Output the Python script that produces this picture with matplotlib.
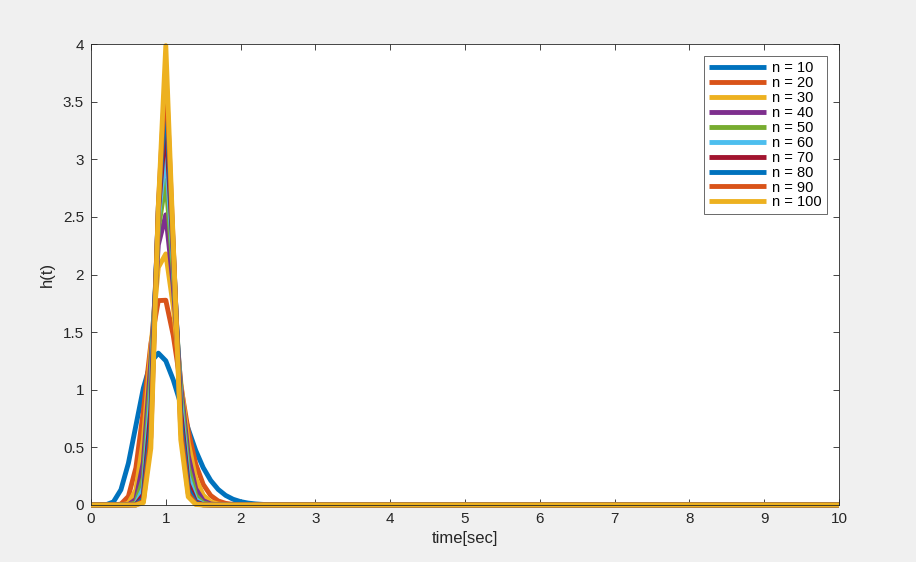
import numpy as np
import matplotlib
matplotlib.use("Agg")
import matplotlib.pyplot as plt

# time grid 0:0.1:10 ; values listed for t = 0.0 ... 3.0, zero afterwards
n_values = [10, 20, 30, 40, 50, 60, 70, 80, 90, 100]
h10 = [0, 0, 0.0019, 0.0270, 0.1323, 0.3627, 0.6884, 1.0140, 1.2407, 1.3176, 1.2511,
       1.0852, 0.8737, 0.6605, 0.4734, 0.3241, 0.2131, 0.1353, 0.0833, 0.0498, 0.0291,
       0.0166, 0.0093, 0.0051, 0.0027, 0.0015, 0.0008, 0.0004, 0.0002, 0.0001, 0.0]
h20 = [0, 0, 0, 0.0002, 0.0079, 0.0747, 0.3227, 0.8170, 1.3979, 1.7734, 1.7767,
       1.4706, 1.0396, 0.6438, 0.3562, 0.1788, 0.0825, 0.0353, 0.0142, 0.0054, 0.0019,
       0.0007, 0.0002, 0.0001, 0, 0, 0, 0, 0, 0, 0]
h30 = [0, 0, 0, 0, 0.0004, 0.0133, 0.1306, 0.5685, 1.3603, 2.0614, 2.1790,
       1.7209, 1.0684, 0.5420, 0.2314, 0.0852, 0.0276, 0.0080, 0.0021, 0.0005, 0.0001,
       0, 0, 0, 0, 0, 0, 0, 0, 0, 0]
h40 = [0, 0, 0, 0, 0, 0.0022, 0.0498, 0.3727, 1.2471, 2.2576, 2.5179,
       1.8975, 1.0346, 0.4298, 0.1417, 0.0383, 0.0087, 0.0017, 0.0003, 0, 0,
       0, 0, 0, 0, 0, 0, 0, 0, 0, 0]
h50 = [0, 0, 0, 0, 0, 0.0004, 0.0184, 0.2366, 1.1067, 2.3934, 2.8163,
       2.0251, 0.9697, 0.3300, 0.0840, 0.0166, 0.0026, 0.0003, 0, 0, 0,
       0, 0, 0, 0, 0, 0, 0, 0, 0, 0]
h60 = [0, 0, 0, 0, 0, 0.0001, 0.0067, 0.1471, 0.9621, 2.4857, 3.0859,
       2.1174, 0.8903, 0.2482, 0.0488, 0.0071, 0.0008, 0.0001, 0, 0, 0,
       0, 0, 0, 0, 0, 0, 0, 0, 0, 0]
h70 = [0, 0, 0, 0, 0, 0, 0.0024, 0.0901, 0.8247, 2.5452, 3.3338,
       2.1825, 0.8061, 0.1840, 0.0279, 0.0030, 0.0002, 0, 0, 0, 0,
       0, 0, 0, 0, 0, 0, 0, 0, 0, 0]
h80 = [0, 0, 0, 0, 0, 0, 0.0008, 0.0547, 0.6995, 2.5794, 3.5646,
       2.2268, 0.7222, 0.1350, 0.0158, 0.0012, 0.0001, 0, 0, 0, 0,
       0, 0, 0, 0, 0, 0, 0, 0, 0, 0]
h90 = [0, 0, 0, 0, 0, 0, 0.0003, 0.0329, 0.5887, 2.5933, 3.7812,
       2.2539, 0.6419, 0.0983, 0.0089, 0.0005, 0, 0, 0, 0, 0,
       0, 0, 0, 0, 0, 0, 0, 0, 0, 0]
h100 = [0, 0, 0, 0, 0, 0, 0.0001, 0.0197, 0.4924, 2.5911, 3.9861,
        2.2670, 0.5671, 0.0711, 0.0050, 0.0002, 0, 0, 0, 0, 0,
        0, 0, 0, 0, 0, 0, 0, 0, 0, 0]
series = [h10, h20, h30, h40, h50, h60, h70, h80, h90, h100]

x_ticks = [0, 1, 2, 3, 4, 5, 6, 7, 8, 9, 10]
y_ticks = [0, 0.5, 1, 1.5, 2, 2.5, 3, 3.5, 4]
y_ticklabels = ["0", "0.5", "1", "1.5", "2", "2.5", "3", "3.5", "4"]

colors = ["#0072BD", "#D95319", "#EDB120", "#7E2F8E", "#77AC30",
          "#4DBEEE", "#A2142F", "#0072BD", "#D95319", "#EDB120"]

t = np.round(np.arange(0, 101) * 0.1, 1)

plt.rcParams['font.family'] = ['Liberation Sans', 'DejaVu Sans']

fig = plt.figure(figsize=(9.16, 5.62), dpi=100, facecolor="#f0f0f0")
ax = fig.add_axes([91/916, 1 - 505/562, (839 - 91)/916, (505 - 44)/562])
ax.set_facecolor("white")

for n, vals, c in zip(n_values, series, colors):
    y = np.zeros(len(t))
    y[:len(vals)] = vals
    ax.plot(t, y, color=c, linewidth=3.5, label=f"n = {n}", clip_on=False,
            solid_capstyle="butt")

ax.set_xlim(0, 10)
ax.set_ylim(0, 4)
ax.set_xticks(x_ticks)
ax.set_yticks(y_ticks)
ax.set_yticklabels(y_ticklabels)
ax.tick_params(direction="in", top=True, right=True, length=4, width=0.6,
               colors="#262626", labelsize=11, pad=5)
for s in ax.spines.values():
    s.set_color("#262626")
    s.set_linewidth(0.6)

ax.set_xlabel("time[sec]", fontsize=12, color="#262626", labelpad=4)
ax.set_ylabel("h(t)", fontsize=12, color="#262626", labelpad=6)

leg = ax.legend(loc="upper right", fontsize=10.5, frameon=True, fancybox=False,
                edgecolor="#262626", handlelength=3.9, handletextpad=0.4,
                labelspacing=0.06, borderpad=0.35, borderaxespad=0.85)
leg.get_frame().set_linewidth(0.6)

fig.savefig("out.png", dpi=100, facecolor=fig.get_facecolor())
